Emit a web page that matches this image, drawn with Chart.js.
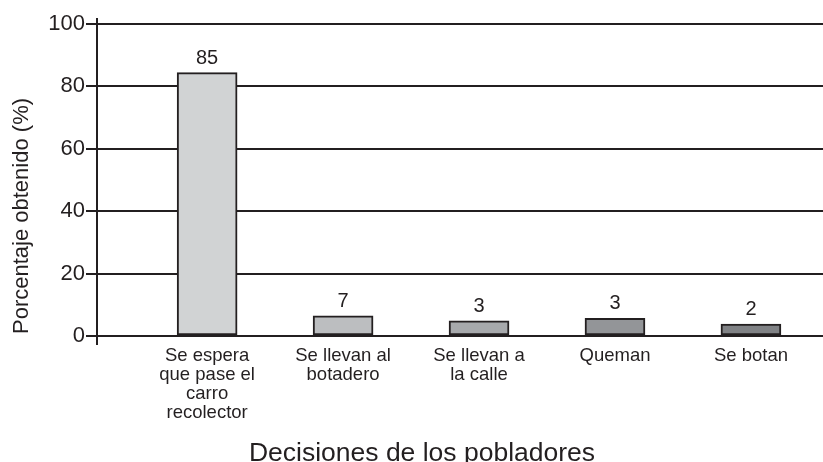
<!DOCTYPE html>
<html>
<head>
<meta charset="utf-8">
<script src="https://cdn.jsdelivr.net/npm/chart.js@4/dist/chart.umd.min.js"></script>
<style>
  html, body { margin: 0; padding: 0; background: #fff; }
  #wrap { width: 823px; height: 462px; }
</style>
</head>
<body>
<div id="wrap"><canvas id="decisionChart" width="823" height="462"></canvas></div>
<script>
// Categorías (eje x), una línea por renglón
const categories = [
    ['Se espera', 'que pase el', 'carro', 'recolector'],
    ['Se llevan al', 'botadero'],
    ['Se llevan a', 'la calle'],
    ['Queman'],
    ['Se botan']
];
// Alturas de barra
const barValues = [84.4, 6.4, 4.8, 5.6, 3.8];
// Rótulos impresos sobre cada barra
const valueLabels = ['85', '7', '3', '3', '2'];
// Marcas del eje y
const yTicks = [0, 20, 40, 60, 80, 100];

const barColors = ['#d1d3d4', '#bcbec0', '#a7a9ac', '#939598', '#808285'];
const ink = '#231f20';
const family = '"Liberation Sans", Arial, Helvetica, sans-serif';

// Etiquetas de valor sobre las barras + títulos de ejes
const labelsPlugin = {
    id: 'barLabels',
    afterDatasetsDraw(chart) {
        const ctx = chart.ctx;
        const meta = chart.getDatasetMeta(0);
        ctx.save();
        ctx.fillStyle = ink;
        ctx.font = '20px ' + family;
        ctx.textAlign = 'center';
        ctx.textBaseline = 'alphabetic';
        meta.data.forEach((bar, i) => {
            ctx.fillText(valueLabels[i], bar.x, bar.y - 9);
        });

        const area = chart.chartArea;
        // título eje x
        ctx.font = '26.5px ' + family;
        ctx.fillText('Decisiones de los pobladores', 422, 461);
        // título eje y
        ctx.translate(28, area.bottom - 128);
        ctx.rotate(-Math.PI / 2);
        ctx.font = '22px ' + family;
        ctx.fillText('Porcentaje obtenido (%)', 0, 0);
        ctx.restore();
    }
};

const ctx = document.getElementById('decisionChart').getContext('2d');
new Chart(ctx, {
    type: 'bar',
    data: {
        datasets: [{
            data: barValues.map((v, i) => ({ x: i + 1, y: v })),
            backgroundColor: barColors,
            borderColor: ink,
            borderWidth: 2,
            borderSkipped: false,
            barThickness: 60
        }]
    },
    options: {
        responsive: false,
        animation: false,
        layout: { padding: { top: 19, left: 0, right: 0, bottom: 0 } },
        plugins: {
            legend: { display: false },
            tooltip: { enabled: false }
        },
        scales: {
            x: {
                type: 'linear',
                min: 0.19,
                max: 5.53,
                offset: false,
                grid: { display: false, drawTicks: false },
                border: { display: false },
                afterBuildTicks: scale => {
                    scale.ticks = categories.map((c, i) => ({ value: i + 1 }));
                },
                afterFit: scale => { scale.height = 118; },
                ticks: {
                    autoSkip: false,
                    maxRotation: 0,
                    padding: 2,
                    color: ink,
                    font: { family: family, size: 18.5, lineHeight: '19px' },
                    callback: value => categories[value - 1] || ''
                }
            },
            y: {
                min: -2.6,
                max: 101.6,
                afterBuildTicks: scale => {
                    scale.ticks = yTicks.map(v => ({ value: v }));
                },
                afterFit: scale => { scale.width = 97; },
                grid: { color: ink, lineWidth: 2, tickLength: 11 },
                border: { color: ink, width: 2 },
                ticks: {
                    padding: 1,
                    color: ink,
                    font: { family: family, size: 22 }
                }
            }
        }
    },
    plugins: [labelsPlugin]
});
</script>
</body>
</html>
